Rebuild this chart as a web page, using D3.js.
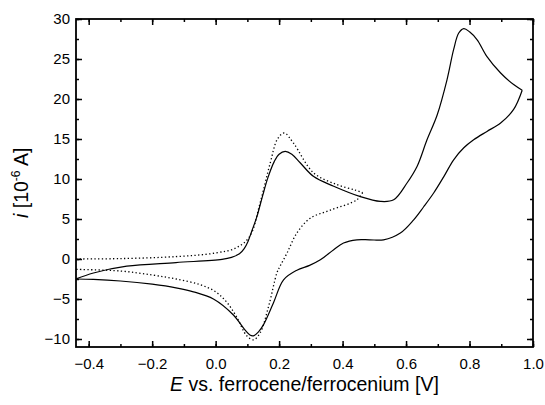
<!DOCTYPE html>
<html>
<head>
<meta charset="utf-8">
<script src="https://cdn.jsdelivr.net/npm/d3@7"></script>
<style>
  body { margin: 0; background: #fff; }
  svg text { font-family: "Liberation Sans", Arial, sans-serif; fill: #000; }
</style>
</head>
<body>
<div id="chart"></div>
<script>
// Cyclic voltammograms (E in V, i in 1e-6 A)
// solid trace: forward (anodic) sweep, then reverse sweep
const solidFwdE = [-0.44, -0.385, -0.28, -0.125, 0.02, 0.05, 0.075, 0.09, 0.102, 0.114, 0.13, 0.148, 0.165, 0.185, 0.2, 0.219, 0.24, 0.267, 0.309, 0.372, 0.456, 0.519, 0.561, 0.603, 0.635, 0.666, 0.698, 0.729, 0.75, 0.766, 0.782, 0.80, 0.824, 0.855, 0.898, 0.939, 0.966];
const solidFwdI = [-2.5, -1.75, -0.9, -0.45, -0.05, 0.2, 0.65, 1.3, 2.2, 3.5, 5.3, 7.9, 10.2, 12.2, 13.1, 13.45, 13.1, 12.0, 10.3, 9.1, 7.8, 7.2, 7.4, 9.5, 11.6, 14.9, 18.0, 22.4, 26.2, 28.25, 28.8, 28.4, 27.4, 25.3, 23.25, 21.8, 21.1];
const solidRevE = [0.966, 0.939, 0.898, 0.855, 0.813, 0.782, 0.75, 0.719, 0.687, 0.655, 0.624, 0.582, 0.529, 0.485, 0.445, 0.403, 0.372, 0.33, 0.296, 0.256, 0.214, 0.182, 0.151, 0.135, 0.119, 0.108, 0.093, 0.056, -0.007, -0.07, -0.125, -0.2, -0.3, -0.385, -0.44];
const solidRevI = [21.1, 18.7, 17.0, 15.95, 14.9, 13.9, 12.4, 10.3, 8.25, 6.5, 4.9, 3.25, 2.4, 2.4, 2.4, 2.0, 1.16, -0.1, -0.8, -1.4, -2.6, -5.5, -8.2, -9.1, -9.6, -9.5, -8.9, -7.0, -5.0, -4.1, -3.6, -3.15, -2.75, -2.55, -2.5];

// dotted trace
const dottedFwdE = [-0.44, -0.3, -0.125, 0.0, 0.065, 0.107, 0.14, 0.172, 0.195, 0.216, 0.245, 0.309, 0.382, 0.44, 0.463];
const dottedFwdI = [0.0, 0.05, 0.3, 0.75, 1.4, 2.8, 7.0, 12.0, 15.0, 15.75, 14.5, 10.75, 9.3, 8.6, 8.3];
const dottedRevE = [0.463, 0.445, 0.361, 0.298, 0.256, 0.225, 0.203, 0.193, 0.167, 0.14, 0.119, 0.098, 0.067, 0.035, 0.0, -0.05, -0.125, -0.2, -0.3, -0.44];
const dottedRevI = [8.3, 7.4, 6.1, 5.1, 3.25, 0.75, -0.9, -1.75, -5.9, -9.25, -10.1, -9.6, -7.3, -5.4, -4.1, -3.2, -2.5, -2.0, -1.5, -1.3];

const xTicks = [-0.4, -0.2, 0.0, 0.2, 0.4, 0.6, 0.8, 1.0];
const yTicks = [-10, -5, 0, 5, 10, 15, 20, 25, 30];

const margin = { top: 19, right: 12, bottom: 58, left: 76 },
    width = 545 - margin.left - margin.right,
    height = 405 - margin.top - margin.bottom;

const svg = d3.select("#chart")
    .append("svg")
    .attr("width", 545)
    .attr("height", 405);

const g = svg.append("g")
    .attr("transform", `translate(${margin.left}, ${margin.top})`);

const x = d3.scaleLinear().domain([-0.44, 1.0]).range([0, width]);
const y = d3.scaleLinear().domain([-11, 30]).range([height, 0]);

g.append("clipPath").attr("id", "clip")
    .append("rect").attr("width", width).attr("height", height);

// curves
const line = d3.line()
    .curve(d3.curveCatmullRom.alpha(0.5))
    .x(d => x(d[0]))
    .y(d => y(d[1]));

const pairs = (e, i) => e.map((v, k) => [v, i[k]]);

const traces = [
    { pts: pairs(solidFwdE, solidFwdI), dash: null },
    { pts: pairs(solidRevE, solidRevI), dash: null },
    { pts: pairs(dottedFwdE, dottedFwdI), dash: "1.3,2.4" },
    { pts: pairs(dottedRevE, dottedRevI), dash: "1.3,2.4" }
];

g.append("g").attr("clip-path", "url(#clip)")
    .selectAll("path")
    .data(traces)
    .join("path")
    .attr("d", d => line(d.pts))
    .attr("fill", "none")
    .attr("stroke", "#000")
    .attr("stroke-width", d => d.dash ? 1.3 : 1.2)
    .attr("stroke-dasharray", d => d.dash);

// axes: ticks point inwards on all four sides
const xMinor = d3.range(-0.4, 1.0001, 0.1).map(v => +v.toFixed(1));
const yMinor = d3.range(-10, 30.001, 2.5);

function styleAxis(sel) {
    sel.select(".domain").remove();
    sel.selectAll(".tick line").attr("stroke", "#000").attr("stroke-width", 1.5);
    sel.selectAll("text").attr("font-size", "15px");
}

g.append("g")
    .attr("transform", `translate(0, ${height})`)
    .call(d3.axisBottom(x).tickValues(xMinor).tickSize(-3).tickFormat(""))
    .call(styleAxis);
g.append("g")
    .attr("transform", `translate(0, ${height})`)
    .call(d3.axisBottom(x).tickValues(xTicks).tickSize(-6).tickPadding(11).tickFormat(d3.format(".1f")))
    .call(styleAxis);
g.append("g")
    .call(d3.axisTop(x).tickValues(xMinor).tickSize(-3).tickFormat(""))
    .call(styleAxis);
g.append("g")
    .call(d3.axisTop(x).tickValues(xTicks).tickSize(-6).tickFormat(""))
    .call(styleAxis);

g.append("g")
    .call(d3.axisLeft(y).tickValues(yMinor).tickSize(-3).tickFormat(""))
    .call(styleAxis);
g.append("g")
    .call(d3.axisLeft(y).tickValues(yTicks).tickSize(-6).tickPadding(6).tickFormat(d3.format("d")))
    .call(styleAxis);
g.append("g")
    .attr("transform", `translate(${width}, 0)`)
    .call(d3.axisRight(y).tickValues(yMinor).tickSize(-3).tickFormat(""))
    .call(styleAxis);
g.append("g")
    .attr("transform", `translate(${width}, 0)`)
    .call(d3.axisRight(y).tickValues(yTicks).tickSize(-6).tickFormat(""))
    .call(styleAxis);

// frame
g.append("rect")
    .attr("width", width)
    .attr("height", height)
    .attr("fill", "none")
    .attr("stroke", "#000")
    .attr("stroke-width", 1.8);

// axis titles
const xt = g.append("text")
    .attr("x", width / 2)
    .attr("y", height + 44)
    .attr("text-anchor", "middle")
    .attr("font-size", "19.5px");
xt.append("tspan").attr("font-style", "italic").text("E");
xt.append("tspan").text(" vs. ferrocene/ferrocenium [V]");

const yt = svg.append("text")
    .attr("transform", `translate(28, 218) rotate(-90)`)
    .attr("text-anchor", "start")
    .attr("font-size", "19.5px");
yt.append("tspan").attr("font-style", "italic").text("i");
yt.append("tspan").text("  [10");
yt.append("tspan").attr("font-size", "12px").attr("dy", -8).text("-6");
yt.append("tspan").attr("dy", 8).text(" A]");
</script>
</body>
</html>
